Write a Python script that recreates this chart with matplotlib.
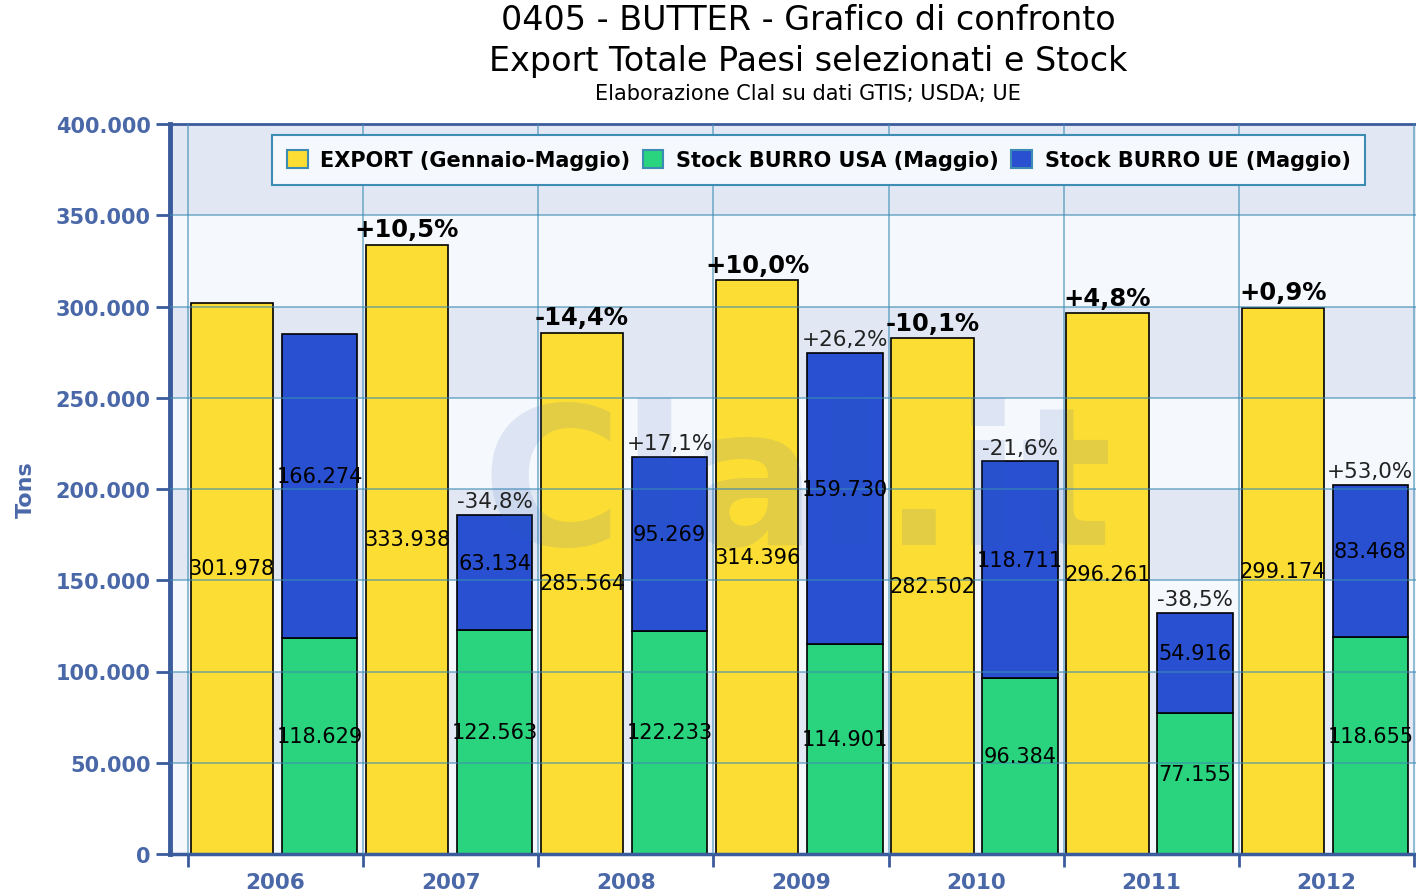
import matplotlib
matplotlib.use("Agg")
import matplotlib.pyplot as plt
import numpy as np

# dati
anni = ["2006", "2007", "2008", "2009", "2010", "2011", "2012"]
export_gm = [301978, 333938, 285564, 314396, 282502, 296261, 299174]
stock_usa = [118629, 122563, 122233, 114901, 96384, 77155, 118655]
stock_ue = [166274, 63134, 95269, 159730, 118711, 54916, 83468]
var_export = ["", "+10,5%", "-14,4%", "+10,0%", "-10,1%", "+4,8%", "+0,9%"]
var_stock = ["", "-34,8%", "+17,1%", "+26,2%", "-21,6%", "-38,5%", "+53,0%"]
yticks = [0, 50000, 100000, 150000, 200000, 250000, 300000, 350000, 400000]


def fmt(v):
    return "0" if v == 0 else f"{v:,}".replace(",", ".")


col_giallo = "#FBDD33"
col_verde = "#2AD37D"
col_blu = "#2850D0"
col_asse = "#3A5C9C"
col_testo = "#4A68A8"
col_griglia = "#3C8CB4"

plt.rcParams["font.family"] = ["DejaVu Sans"]

fig = plt.figure(figsize=(14.16, 8.95), dpi=100)
ax = fig.add_axes([170 / 1416, 40 / 895, 1246 / 1416, 730 / 895])

x = np.arange(len(anni))

# fasce di sfondo alternate
ax.set_facecolor("#F5F8FC")
for i in range(len(yticks) - 1):
    if i % 2 == 1:
        ax.axhspan(yticks[i], yticks[i + 1], color="#E1E8F3", zorder=0, lw=0)

# barre
ax.bar(x - 0.25, export_gm, width=0.47, color=col_giallo, edgecolor="black",
       linewidth=1.2, zorder=2, label="EXPORT (Gennaio-Maggio)")
ax.bar(x + 0.25, stock_usa, width=0.43, color=col_verde, edgecolor="black",
       linewidth=1.2, zorder=2, label="Stock BURRO USA (Maggio)")
ax.bar(x + 0.25, stock_ue, width=0.43, bottom=stock_usa, color=col_blu,
       edgecolor="black", linewidth=1.2, zorder=2, label="Stock BURRO UE (Maggio)")

# griglia sopra le barre
for yv in yticks[1:-1]:
    ax.axhline(yv, color=col_griglia, lw=1.3, alpha=0.6, zorder=3)
for xv in np.arange(-0.5, len(anni) + 0.5, 1):
    ax.axvline(xv, color=col_griglia, lw=1.3, alpha=0.6, zorder=3)

# watermark
ax.text(2.98, 199000, "Clal.it", fontsize=138, fontweight="bold",
        color="#3060C0", alpha=0.12, ha="center", va="center", zorder=4)

# etichette valori
for i in range(len(anni)):
    ax.text(x[i] - 0.25, export_gm[i] / 2, fmt(export_gm[i]), ha="center",
            va="bottom", fontsize=15, color="black", zorder=5)
    ax.text(x[i] + 0.25, stock_usa[i] / 2, fmt(stock_usa[i]), ha="center",
            va="bottom", fontsize=15, color="black", zorder=5)
    ax.text(x[i] + 0.25, stock_usa[i] + stock_ue[i] / 2, fmt(stock_ue[i]),
            ha="center", va="bottom", fontsize=15, color="black", zorder=5)
    if var_export[i]:
        ax.text(x[i] - 0.25, export_gm[i] + 2000, var_export[i], ha="center",
                va="bottom", fontsize=17.5, fontweight="bold", color="black", zorder=5)
    if var_stock[i]:
        ax.text(x[i] + 0.25, stock_usa[i] + stock_ue[i] + 2000, var_stock[i],
                ha="center", va="bottom", fontsize=15.5, color="#222222", zorder=5)

# assi
ax.set_xlim(-0.603, 6.511)
ax.set_ylim(0, 400000)
ax.set_yticks(yticks, [fmt(v) for v in yticks])
ax.set_xticks(np.arange(-0.5, len(anni) + 0.5, 1), [""] * (len(anni) + 1))
ax.set_xticks(x, anni, minor=True)
ax.tick_params(axis="y", colors=col_asse, labelcolor=col_testo, length=10,
               width=2, labelsize=15, pad=4)
ax.tick_params(axis="x", which="major", colors=col_asse, length=9, width=2)
ax.tick_params(axis="x", which="minor", length=0, labelcolor=col_testo,
               labelsize=15.5, pad=13)
for lab in ax.get_yticklabels() + ax.get_xticklabels(minor=True):
    lab.set_fontweight("bold")

ax.spines["right"].set_visible(False)
ax.spines["left"].set_color(col_asse)
ax.spines["left"].set_linewidth(3.5)
ax.spines["top"].set_color(col_asse)
ax.spines["top"].set_linewidth(2)
ax.spines["bottom"].set_color(col_asse)
ax.spines["bottom"].set_linewidth(2.5)

ax.set_ylabel("Tons", fontsize=16, fontweight="bold", color=col_testo, labelpad=14)

leg = ax.legend(loc="upper center", bbox_to_anchor=(0.5205, 0.999), ncol=3,
                frameon=True, fancybox=False, fontsize=15, handlelength=1.0,
                handleheight=1.0, handletextpad=0.6, columnspacing=0.6,
                borderpad=0.7)
leg.get_frame().set_facecolor("#F5F8FC")
leg.get_frame().set_edgecolor(col_griglia)
leg.get_frame().set_linewidth(1.5)
leg.get_frame().set_alpha(1)
leg.set_zorder(6)
for t in leg.get_texts():
    t.set_fontweight("bold")
for h in leg.legend_handles:
    h.set_edgecolor(col_griglia)
    h.set_linewidth(1.5)

# titoli
fig.text(808 / 1416, 1 - 20 / 895, "0405 - BUTTER - Grafico di confronto",
         ha="center", va="center", fontsize=24)
fig.text(808 / 1416, 1 - 61 / 895, "Export Totale Paesi selezionati e Stock",
         ha="center", va="center", fontsize=24)
fig.text(808 / 1416, 1 - 94 / 895, "Elaborazione Clal su dati GTIS; USDA; UE",
         ha="center", va="center", fontsize=15)

fig.savefig("out.png", dpi=100)
